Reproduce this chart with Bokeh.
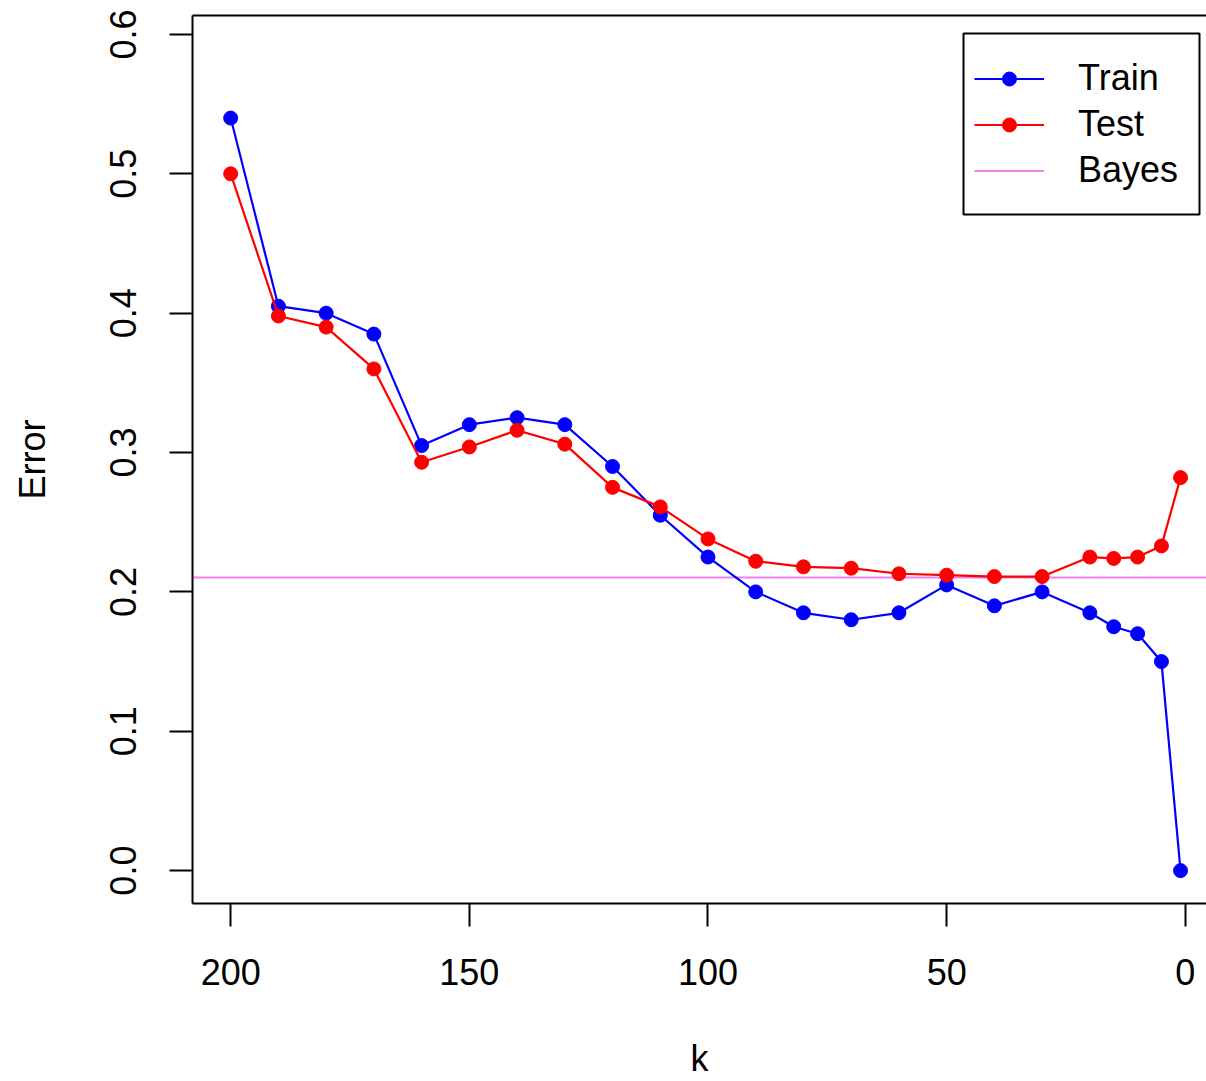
from bokeh.plotting import figure
from bokeh.models import (Range1d, FixedTicker, NumeralTickFormatter, Legend,
                          LegendItem, LinearAxis, BoxAnnotation)
from bokeh.embed import file_html
from bokeh.resources import INLINE

# ---- data ----
k_values = [200, 190, 180, 170, 160, 150, 140, 130, 120, 110, 100, 90, 80,
            70, 60, 50, 40, 30, 20, 15, 10, 5, 1]
train_error = [0.540, 0.405, 0.400, 0.385, 0.305, 0.320, 0.325, 0.320, 0.290,
               0.255, 0.225, 0.200, 0.185, 0.180, 0.185, 0.205, 0.190, 0.200,
               0.185, 0.175, 0.170, 0.150, 0.000]
test_error = [0.500, 0.398, 0.390, 0.360, 0.293, 0.304, 0.316, 0.306, 0.275,
              0.261, 0.238, 0.222, 0.218, 0.217, 0.213, 0.212, 0.211, 0.211,
              0.225, 0.224, 0.225, 0.233, 0.282]
bayes_error = 0.21
x_ticks = [0, 50, 100, 150, 200]
y_ticks = [0.0, 0.1, 0.2, 0.3, 0.4, 0.5, 0.6]

FONT = "Liberation Sans"
FS = "36px"

p = figure(width=1206, height=1081, output_backend="svg", toolbar_location=None,
           x_range=Range1d(208, -4.44), y_range=Range1d(-0.0236, 0.6136),
           min_border_left=192, min_border_right=0, min_border_top=15,
           min_border_bottom=178, x_axis_label="k", y_axis_label="Error")
p.outline_line_color = None
p.xgrid.visible = False
p.ygrid.visible = False
p.background_fill_color = "white"
p.border_fill_color = "white"

for ax in (p.xaxis[0], p.yaxis[0]):
    ax.axis_line_width = 2
    ax.axis_line_color = "black"
    ax.major_tick_line_width = 2
    ax.major_tick_line_color = "black"
    ax.major_tick_out = 23
    ax.major_tick_in = 0
    ax.minor_tick_out = 0
    ax.minor_tick_in = 0
    ax.major_label_text_font = FONT
    ax.major_label_text_font_size = FS
    ax.major_label_text_color = "black"
    ax.axis_label_text_font = FONT
    ax.axis_label_text_font_size = FS
    ax.axis_label_text_font_style = "normal"
    ax.axis_label_text_color = "black"

p.xaxis[0].ticker = FixedTicker(ticks=x_ticks)
p.xaxis[0].major_label_standoff = 32
p.xaxis[0].axis_label_standoff = 50

p.yaxis[0].ticker = FixedTicker(ticks=y_ticks)
p.yaxis[0].formatter = NumeralTickFormatter(format="0.0")
p.yaxis[0].major_label_orientation = "vertical"
p.yaxis[0].major_label_standoff = 33
p.yaxis[0].axis_label_standoff = 55

top = LinearAxis(ticker=FixedTicker(ticks=[]), axis_line_width=2,
                 axis_line_color="black", major_tick_out=0, major_tick_in=0,
                 minor_tick_out=0, minor_tick_in=0, major_label_standoff=0,
                 major_label_text_font_size="0px")
p.add_layout(top, "above")

bayes = p.hspan(y=[bayes_error], line_color="violet", line_width=2)

tr_line = p.line(k_values, train_error, line_color="blue", line_width=2.2)
tr_pts = p.scatter(k_values, train_error, size=14,
                   fill_color="blue", line_color="blue")
te_line = p.line(k_values, test_error, line_color="red", line_width=2.2)
te_pts = p.scatter(k_values, test_error, size=14, fill_color="red",
                   line_color="red")

# legend frame (screen units, relative to the plot frame)
legend_box = BoxAnnotation(left=771, right=1007, top=870, bottom=689,
                           left_units="screen", right_units="screen",
                           top_units="screen", bottom_units="screen",
                           fill_color="white", fill_alpha=1.0,
                           line_color="black", line_alpha=1.0, line_width=2)
p.add_layout(legend_box)

legend = Legend(items=[
    LegendItem(label="Train", renderers=[tr_line, tr_pts]),
    LegendItem(label="Test", renderers=[te_line, te_pts]),
    LegendItem(label="Bayes", renderers=[bayes]),
], location=(782, 712), glyph_width=70, glyph_height=35, label_height=42,
    label_width=100, spacing=4, padding=0, label_standoff=34,
    label_text_font=FONT, label_text_font_size=FS, label_text_color="black",
    border_line_color=None, background_fill_alpha=0, margin=0)
p.add_layout(legend, "center")

open("out.html", "w").write(file_html(p, INLINE))
